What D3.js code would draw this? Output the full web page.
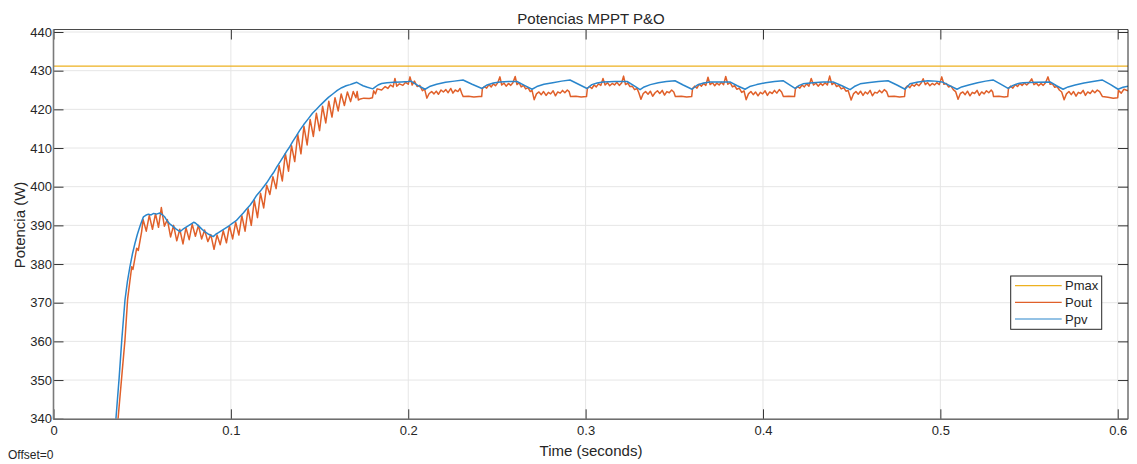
<!DOCTYPE html>
<html>
<head>
<meta charset="utf-8">
<script src="https://cdn.jsdelivr.net/npm/d3@7"></script>
<style>
  body { margin: 0; background: #ffffff; }
  text { font-family: "Liberation Sans", Arial, sans-serif; fill: #262626; }
</style>
</head>
<body>
<svg id="chart" width="1137" height="464"></svg>
<script>
// Axis ticks
const xTicks = [0, 0.1, 0.2, 0.3, 0.4, 0.5, 0.6];
const yTicks = [340, 350, 360, 370, 380, 390, 400, 410, 420, 430, 440];

// Series names in legend order
const seriesNames = ["Pmax", "Pout", "Ppv"];

// Maximum available power (W) over time (s)
const pmax = [[0, 431.2], [0.6058, 431.2]];

// PV panel power (W) over time (s)
const ppv = [
  [0.0352,340.0],[0.0370,350.5],[0.0385,360.4],[0.0403,370.7],[0.0417,375.6],[0.0431,379.3],[0.0445,382.6],
  [0.0459,385.3],[0.0473,387.7],[0.0487,389.7],[0.0497,391.0],[0.0507,392.2],[0.0520,392.6],[0.0535,392.9],
  [0.0550,392.7],[0.0565,393.1],[0.0580,392.9],[0.0600,393.2],[0.0612,392.8],[0.0625,392.3],[0.0640,391.2],
  [0.0657,390.3],[0.0672,389.8],[0.0690,389.1],[0.0713,388.4],[0.0730,389.0],[0.0750,389.6],[0.0770,390.2],
  [0.0790,390.8],[0.0800,390.6],[0.0815,390.0],[0.0835,389.1],[0.0855,388.3],[0.0875,387.7],[0.0901,387.1],
  [0.0915,387.7],[0.0930,388.1],[0.0950,388.7],[0.0970,389.3],[0.0990,389.9],[0.1010,390.6],[0.1030,391.2],
  [0.1050,392.2],[0.1070,393.2],[0.1090,394.3],[0.1108,395.2],[0.1125,396.3],[0.1146,397.8],[0.1165,398.8],
  [0.1185,400.0],[0.1202,401.0],[0.1220,402.3],[0.1240,403.6],[0.1260,405.2],[0.1280,406.6],[0.1296,407.8],
  [0.1315,409.2],[0.1333,410.4],[0.1350,411.8],[0.1370,413.2],[0.1390,414.7],[0.1410,416.0],[0.1437,417.6],
  [0.1460,419.0],[0.1484,420.1],[0.1505,421.1],[0.1525,422.0],[0.1550,423.1],[0.1578,424.1],[0.1600,424.9],
  [0.1625,425.6],[0.1650,426.1],[0.1672,426.4],[0.1690,426.7],[0.1710,427.0],[0.1725,426.6],[0.1745,426.1],
  [0.1770,425.7],[0.1800,425.3],[0.1815,425.8],[0.1830,426.3],[0.1850,426.7],[0.1880,426.9],[0.1920,427.0],
  [0.1960,427.1],[0.2000,427.2],[0.2015,427.3],[0.2040,426.6],[0.2065,425.9],[0.2095,425.2],
  [0.2120,425.9],[0.2160,426.5],[0.2210,427.0],[0.2260,427.3],[0.2309,427.6],[0.2360,426.5],[0.2416,425.4],
  [0.2445,426.3],[0.2480,426.8],[0.2517,427.1],[0.2565,427.2],[0.2613,427.2],[0.2655,426.2],[0.2698,425.2],
  [0.2725,425.9],[0.2765,426.5],[0.2815,426.9],[0.2865,427.3],[0.2912,427.6],[0.2960,426.5],[0.3008,425.4],
  [0.3035,426.4],[0.3065,426.8],[0.3098,427.1],[0.3165,427.2],[0.3234,427.2],[0.3270,426.2],[0.3307,425.1],
  [0.3330,425.8],[0.3365,426.4],[0.3410,426.9],[0.3455,427.2],[0.3504,427.4],[0.3550,426.3],[0.3600,425.2],
  [0.3630,426.3],[0.3665,426.8],[0.3702,427.1],[0.3760,427.1],[0.3814,427.1],[0.3855,426.1],[0.3899,425.2],
  [0.3925,425.9],[0.3965,426.4],[0.4015,426.9],[0.4065,427.2],[0.4113,427.4],[0.4150,426.3],[0.4181,425.4],
  [0.4205,426.2],[0.4226,426.6],[0.4280,426.9],[0.4340,427.1],[0.4395,427.1],[0.4445,426.1],[0.4491,425.1],
  [0.4515,425.9],[0.4548,426.6],[0.4590,426.9],[0.4650,427.2],[0.4705,427.4],[0.4755,426.3],[0.4801,425.2],
  [0.4829,426.6],[0.4875,427.1],[0.4930,427.4],[0.4970,427.3],[0.5010,427.1],[0.5050,426.2],[0.5094,425.2],
  [0.5120,425.8],[0.5160,426.3],[0.5210,426.9],[0.5255,427.3],[0.5297,427.6],[0.5340,426.5],[0.5382,425.4],
  [0.5410,426.2],[0.5440,426.7],[0.5466,426.9],[0.5540,427.0],[0.5619,427.1],[0.5655,426.1],[0.5692,425.2],
  [0.5720,425.8],[0.5760,426.3],[0.5810,426.8],[0.5860,427.2],[0.5912,427.6],[0.5960,426.4],[0.6002,425.2],
  [0.6030,425.7],[0.6058,426.0]
];

// Converter output power (W) over time (s)
const pout = [
  [0.0364,340.0],[0.0385,351.0],[0.0403,360.4],[0.0418,371.0],[0.0441,379.3],[0.0448,378.6],[0.0469,384.1],
  [0.0478,383.5],[0.0497,388.4],[0.0505,391.5],[0.0523,388.5],[0.0540,392.6],[0.0558,389.0],[0.0575,393.0],
  [0.0592,389.5],[0.0608,394.6],[0.0625,389.8],[0.0642,391.5],[0.0660,387.0],[0.0677,390.0],[0.0695,386.0],
  [0.0712,389.0],[0.0730,385.2],[0.0747,389.4],[0.0765,386.3],[0.0782,390.3],[0.0800,387.2],[0.0817,390.0],
  [0.0835,386.5],[0.0852,388.8],[0.0870,385.8],[0.0887,387.6],[0.0905,383.8],[0.0922,387.5],[0.0940,385.0],
  [0.0957,388.6],[0.0975,385.5],[0.0992,389.9],[0.1010,386.5],[0.1027,390.8],[0.1045,387.5],[0.1062,392.5],
  [0.1080,388.5],[0.1097,394.3],[0.1115,390.0],[0.1132,396.5],[0.1150,392.0],[0.1167,398.3],[0.1185,394.5],
  [0.1202,400.4],[0.1220,398.0],[0.1237,402.6],[0.1255,399.5],[0.1272,405.5],[0.1290,401.5],[0.1307,408.6],
  [0.1325,404.0],[0.1342,410.6],[0.1360,406.5],[0.1377,413.5],[0.1395,408.5],[0.1412,415.6],[0.1430,410.8],
  [0.1447,417.4],[0.1465,413.0],[0.1482,419.0],[0.1500,414.5],[0.1517,420.8],[0.1535,416.5],[0.1552,422.1],
  [0.1570,418.0],[0.1587,423.0],[0.1605,419.6],[0.1622,424.0],[0.1640,421.0],[0.1657,424.5],[0.1675,422.0],
  [0.1690,424.6],[0.1705,423.0],[0.1712,424.6],[0.1719,422.4],[0.1730,422.7],[0.1750,422.9],[0.1780,422.8],
  [0.1798,423.0],[0.1805,424.8],[0.1815,424.0],[0.1825,425.3],[0.1850,425.0],[0.1870,425.9],[0.1885,425.4],
  [0.1900,426.3],[0.1915,425.8],[0.1925,428.0],[0.1935,426.0],[0.1950,426.6],[0.1970,426.2],[0.1985,427.0],
  [0.2000,426.5],[0.2010,428.4],[0.2022,426.3],[0.2035,427.3],[0.2050,425.9],[0.2065,426.2],[0.2080,424.8],
  [0.2092,425.3],[0.2105,422.9],[0.2118,424.1],[0.2132,424.6],[0.2145,424.0],[0.2158,424.7],[0.2170,423.9],
  [0.2185,425.0],[0.2198,424.5],[0.2212,425.1],[0.2225,424.3],[0.2240,425.4],[0.2252,424.2],[0.2265,425.0],
  [0.2280,424.6],[0.2292,425.4],[0.2302,424.1],[0.2310,423.3],[0.2340,423.4],[0.2370,423.2],[0.2400,423.3],
  [0.2414,423.3],[0.2418,425.4],[0.2430,425.9],[0.2442,425.5],[0.2455,426.4],[0.2468,425.8],[0.2480,426.6],
  [0.2492,426.1],[0.2505,426.9],[0.2517,428.4],[0.2527,426.3],[0.2540,426.8],[0.2552,426.0],[0.2565,426.7],
  [0.2578,426.2],[0.2590,426.9],[0.2603,428.5],[0.2613,426.4],[0.2625,426.9],[0.2637,425.8],[0.2650,426.2],
  [0.2662,425.3],[0.2675,425.6],[0.2688,424.6],[0.2698,424.9],[0.2710,422.5],[0.2723,424.0],[0.2737,424.5],
  [0.2750,423.8],[0.2763,424.6],[0.2777,423.6],[0.2790,424.4],[0.2803,424.0],[0.2817,424.8],[0.2830,423.5],
  [0.2843,424.5],[0.2857,424.2],[0.2870,424.9],[0.2883,424.3],[0.2897,425.0],[0.2907,424.6],[0.2915,423.3],
  [0.2945,423.4],[0.2975,423.2],[0.3005,423.3],[0.3010,425.4],[0.3022,425.9],[0.3035,425.4],[0.3048,426.3],
  [0.3060,425.8],[0.3073,426.6],[0.3086,426.2],[0.3098,428.0],[0.3110,426.3],[0.3123,426.9],[0.3136,426.1],
  [0.3150,426.7],[0.3163,426.3],[0.3176,427.0],[0.3190,426.2],[0.3203,426.8],[0.3214,428.6],[0.3225,426.4],
  [0.3238,426.8],[0.3250,425.9],[0.3263,426.0],[0.3276,425.1],[0.3290,425.4],[0.3300,424.3],[0.3312,422.6],
  [0.3325,424.1],[0.3338,424.6],[0.3352,423.9],[0.3365,424.7],[0.3378,423.4],[0.3392,424.3],[0.3405,424.8],
  [0.3418,424.1],[0.3432,424.9],[0.3445,423.7],[0.3458,424.6],[0.3472,424.3],[0.3485,425.0],[0.3497,424.5],
  [0.3506,423.3],[0.3540,423.4],[0.3570,423.2],[0.3598,423.3],[0.3603,425.4],[0.3615,426.0],[0.3628,425.5],
  [0.3640,426.5],[0.3653,426.0],[0.3665,426.7],[0.3678,426.2],[0.3690,428.3],[0.3702,426.4],[0.3715,426.9],
  [0.3728,426.1],[0.3740,426.8],[0.3753,426.3],[0.3765,427.0],[0.3778,426.4],[0.3790,428.5],[0.3802,426.5],
  [0.3815,426.9],[0.3828,425.8],[0.3840,426.1],[0.3853,425.2],[0.3866,425.5],[0.3880,424.4],[0.3893,424.8],
  [0.3905,422.5],[0.3918,424.0],[0.3932,424.6],[0.3945,423.8],[0.3958,424.5],[0.3972,423.5],[0.3985,424.4],
  [0.3998,424.0],[0.4012,424.8],[0.4025,423.6],[0.4038,424.5],[0.4052,424.1],[0.4065,424.9],[0.4078,424.2],
  [0.4092,425.1],[0.4105,424.5],[0.4115,423.3],[0.4145,423.4],[0.4178,423.3],[0.4183,425.3],[0.4195,425.9],
  [0.4208,425.5],[0.4220,426.3],[0.4233,425.8],[0.4246,426.6],[0.4259,426.0],[0.4272,428.0],[0.4285,426.3],
  [0.4298,426.8],[0.4311,426.0],[0.4324,426.7],[0.4337,426.2],[0.4350,426.9],[0.4363,426.3],[0.4376,428.6],
  [0.4389,426.4],[0.4402,426.9],[0.4415,425.9],[0.4428,426.2],[0.4441,425.3],[0.4455,425.6],[0.4468,424.7],
  [0.4480,424.9],[0.4497,422.4],[0.4510,424.0],[0.4524,424.6],[0.4537,423.9],[0.4550,424.7],[0.4564,423.6],
  [0.4577,424.5],[0.4590,424.0],[0.4604,424.9],[0.4617,423.5],[0.4630,424.4],[0.4644,424.2],[0.4657,424.9],
  [0.4670,424.3],[0.4684,425.1],[0.4697,424.6],[0.4707,423.3],[0.4740,423.4],[0.4770,423.2],[0.4798,423.3],
  [0.4803,425.5],[0.4815,426.1],[0.4828,425.6],[0.4840,426.4],[0.4853,426.0],[0.4866,426.6],[0.4879,426.1],
  [0.4892,426.8],[0.4903,427.9],[0.4915,426.4],[0.4928,426.9],[0.4941,426.1],[0.4954,426.7],[0.4967,426.3],
  [0.4980,426.9],[0.4994,426.4],[0.5008,428.4],[0.5020,426.5],[0.5033,426.7],[0.5046,425.8],[0.5060,426.0],
  [0.5073,425.1],[0.5086,424.6],[0.5100,422.6],[0.5113,424.1],[0.5127,424.5],[0.5140,423.8],[0.5153,424.7],
  [0.5167,423.5],[0.5180,424.4],[0.5193,424.1],[0.5207,424.9],[0.5220,423.6],[0.5233,424.5],[0.5247,424.0],
  [0.5260,424.8],[0.5273,424.3],[0.5287,425.0],[0.5295,424.5],[0.5300,423.3],[0.5330,423.4],[0.5360,423.2],
  [0.5380,423.3],[0.5384,425.4],[0.5396,426.0],[0.5409,425.5],[0.5422,426.4],[0.5435,425.9],[0.5448,426.7],
  [0.5461,426.2],[0.5474,426.8],[0.5487,426.3],[0.5500,426.9],[0.5515,427.9],[0.5528,426.4],[0.5541,426.8],
  [0.5554,426.1],[0.5567,426.7],[0.5580,426.2],[0.5593,426.9],[0.5607,428.4],[0.5619,426.5],[0.5632,426.6],
  [0.5645,425.7],[0.5658,425.9],[0.5671,425.0],[0.5684,424.5],[0.5698,422.5],[0.5711,424.0],[0.5725,424.6],
  [0.5738,423.8],[0.5751,424.6],[0.5765,423.4],[0.5778,424.4],[0.5791,424.1],[0.5805,424.9],[0.5818,423.6],
  [0.5831,424.5],[0.5845,424.1],[0.5858,424.9],[0.5871,424.3],[0.5885,425.0],[0.5898,424.6],[0.5914,423.3],
  [0.5945,423.1],[0.5975,422.9],[0.6000,423.0],[0.6004,424.9],[0.6020,424.2],[0.6035,425.2],[0.6058,424.8]
];

const colors = { Pmax: "#edb120", Pout: "#e0602a", Ppv: "#2a86cc" };
const seriesData = { Pmax: pmax, Pout: pout, Ppv: ppv };

const svg = d3.select("#chart");
const plot = { left: 53.5, right: 1128, top: 29.5, bottom: 419.3 };

const x = d3.scaleLinear().domain([0, 0.6058]).range([plot.left, plot.right]);
const y = d3.scaleLinear().domain([339.85, 440.65]).range([plot.bottom, plot.top]);

svg.append("rect").attr("width", 1137).attr("height", 464).attr("fill", "#ffffff");

// grid
const grid = svg.append("g").attr("stroke", "#e6e6e6").attr("stroke-width", 1);
grid.selectAll("line.gx").data(xTicks).join("line")
  .attr("x1", d => x(d)).attr("x2", d => x(d))
  .attr("y1", plot.top).attr("y2", plot.bottom);
grid.selectAll("line.gy").data(yTicks).join("line")
  .attr("x1", plot.left).attr("x2", plot.right)
  .attr("y1", d => y(d)).attr("y2", d => y(d));

// clip region for the traces
svg.append("clipPath").attr("id", "plotClip").append("rect")
  .attr("x", plot.left).attr("y", plot.top)
  .attr("width", plot.right - plot.left).attr("height", plot.bottom - plot.top);

const line = d3.line().x(d => x(d[0])).y(d => y(d[1]));
const traces = svg.append("g").attr("clip-path", "url(#plotClip)");
seriesNames.forEach(name => {
  traces.append("path")
    .datum(seriesData[name])
    .attr("fill", "none")
    .attr("stroke", colors[name])
    .attr("stroke-width", name === "Pmax" ? 1.2 : 1.5)
    .attr("stroke-linejoin", "round")
    .attr("d", line);
});

// axes with inward ticks
const fmtX = d => d === 0 ? "0" : d3.format(".1f")(d);
const axisStyle = g => {
  g.select(".domain").remove();
  g.selectAll(".tick line").attr("stroke", "#333333");
  g.selectAll(".tick text").attr("font-size", 13).attr("fill", "#262626")
    .attr("font-family", "'Liberation Sans', Arial, sans-serif");
};
svg.append("g").attr("transform", `translate(0,${plot.bottom})`)
  .call(d3.axisBottom(x).tickValues(xTicks).tickFormat(fmtX).tickSize(-10).tickPadding(6.5))
  .call(axisStyle);
svg.append("g").attr("transform", `translate(0,${plot.top})`)
  .call(d3.axisTop(x).tickValues(xTicks).tickFormat("").tickSize(-10))
  .call(axisStyle);
svg.append("g").attr("transform", `translate(${plot.left},0)`)
  .call(d3.axisLeft(y).tickValues(yTicks).tickFormat(d3.format("d")).tickSize(-10).tickPadding(1.5))
  .call(axisStyle);
svg.append("g").attr("transform", `translate(${plot.right},0)`)
  .call(d3.axisRight(y).tickValues(yTicks).tickFormat("").tickSize(-10))
  .call(axisStyle);

// frame
svg.append("line").attr("x1", plot.left).attr("x2", plot.right).attr("y1", plot.top).attr("y2", plot.top)
  .attr("stroke", "#4a4a4a").attr("stroke-width", 1);
svg.append("line").attr("x1", plot.right).attr("x2", plot.right).attr("y1", plot.top).attr("y2", plot.bottom)
  .attr("stroke", "#262626").attr("stroke-width", 1);
svg.append("line").attr("x1", plot.left).attr("x2", plot.right).attr("y1", plot.bottom).attr("y2", plot.bottom)
  .attr("stroke", "#6e6e6e").attr("stroke-width", 1.5);
svg.append("line").attr("x1", plot.left).attr("x2", plot.left).attr("y1", plot.top).attr("y2", plot.bottom)
  .attr("stroke", "#7a7a7a").attr("stroke-width", 1.6);

// titles
svg.append("text").attr("x", 591).attr("y", 24).attr("text-anchor", "middle")
  .attr("font-size", 15).text("Potencias MPPT P&O");
svg.append("text").attr("x", 591).attr("y", 456).attr("text-anchor", "middle")
  .attr("font-size", 15).text("Time (seconds)");
svg.append("text").attr("transform", "translate(25,225) rotate(-90)").attr("text-anchor", "middle")
  .attr("font-size", 15).text("Potencia (W)");
svg.append("text").attr("x", 8).attr("y", 459).attr("font-size", 12).text("Offset=0");

// legend
const legend = svg.append("g");
legend.append("rect").attr("x", 1010.7).attr("y", 276).attr("width", 91).attr("height", 53.3)
  .attr("fill", "#ffffff").attr("stroke", "#262626").attr("stroke-width", 1);
seriesNames.forEach((name, i) => {
  const ly = 285.7 + i * 16.65;
  legend.append("line").attr("x1", 1015).attr("x2", 1061.7).attr("y1", ly).attr("y2", ly)
    .attr("stroke", colors[name]).attr("stroke-width", 1.2);
  legend.append("text").attr("x", 1065).attr("y", ly).attr("dy", "0.35em")
    .attr("font-size", 13).text(name);
});
</script>
</body>
</html>
